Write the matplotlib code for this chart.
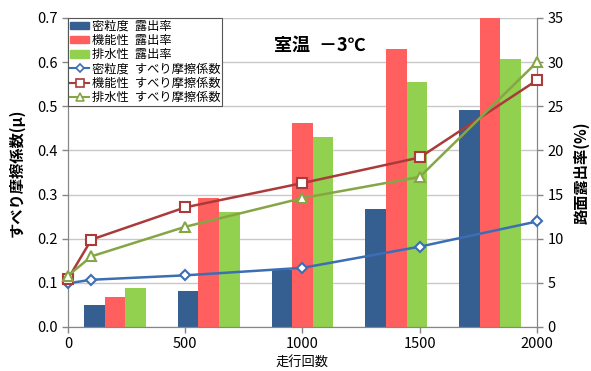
import numpy as np
import matplotlib.pyplot as plt
from matplotlib.patches import Patch
from matplotlib.lines import Line2D

plt.rcParams["font.family"] = ["Noto Sans CJK JP", "DejaVu Sans"]

# 走行回数ごとのすべり摩擦係数
run_counts = [0, 100, 500, 1000, 1500, 2000]
mu_dense = [0.099, 0.107, 0.117, 0.134, 0.182, 0.239]
mu_func = [0.109, 0.198, 0.271, 0.326, 0.384, 0.559]
mu_drain = [0.116, 0.160, 0.227, 0.292, 0.340, 0.600]

# 路面露出率(%) - 5区分の棒
bar_groups = ["100", "500", "1000", "1500", "2000"]
exp_dense = [2.5, 4.1, 6.5, 13.4, 24.6]
exp_func = [3.4, 14.6, 23.1, 31.5, 35.0]
exp_drain = [4.4, 13.0, 21.5, 27.7, 30.4]

C_BAR = ["#355F91", "#FF5F5F", "#92D050"]
C_LINE = ["#3C6EB4", "#AA3B3A", "#86A646"]
GRAY = "#868686"

fig = plt.figure(figsize=(5.91, 3.71), dpi=100)
ax = fig.add_axes([0.115, 0.1186, 0.7936, 0.833])
axb = ax.twinx()

# 棒は背面、折れ線は前面
ax.set_zorder(2)
ax.patch.set_visible(False)
axb.set_zorder(1)

x_max = 2000
n = len(bar_groups)
slot = x_max / n
centers = (np.arange(n) + 0.5) * slot
bw = slot * 0.22
for k, (vals, c) in enumerate(zip([exp_dense, exp_func, exp_drain], C_BAR)):
    axb.bar(centers + (k - 1) * bw, vals, width=bw, color=c, zorder=2)

axb.set_ylim(0, 35)
axb.set_yticks(range(0, 36, 5))
axb.grid(axis="y", color="#C8C8C8", linewidth=1.0, zorder=0)
axb.set_axisbelow(True)

markers = [("D", 5.0), ("s", 7.0), ("^", 7.5)]
for vals, c, (m, ms) in zip([mu_dense, mu_func, mu_drain], C_LINE, markers):
    ax.plot(run_counts, vals, color=c, linewidth=1.8, marker=m, markersize=ms,
            markerfacecolor="white", markeredgecolor=c, markeredgewidth=1.5,
            clip_on=False, zorder=3)

ax.set_xlim(0, x_max)
ax.set_ylim(0, 0.7)
ax.set_xticks(range(0, 2001, 500))
ax.set_yticks(np.arange(0, 0.71, 0.1))
ax.yaxis.set_major_formatter(plt.FormatStrFormatter("%.1f"))

for a in (ax, axb):
    for s in a.spines.values():
        s.set_color(GRAY)
    a.spines["top"].set_visible(False)
    a.tick_params(colors=GRAY, labelcolor="black", labelsize=10.5, length=4, width=1)

ax.set_ylabel("すべり摩擦係数(μ)", fontsize=11, fontweight="bold", va="center")
ax.yaxis.set_label_coords(-0.11, 0.5)
axb.set_ylabel("路面露出率(%)", fontsize=11, fontweight="bold", rotation=90, va="center")
axb.yaxis.set_label_coords(1.095, 0.5)
ax.set_xlabel("走行回数", fontsize=9.5)
ax.xaxis.set_label_coords(0.5, -0.098)

ax.text(0.537, 0.913, "室温\u2002－3℃", transform=ax.transAxes, ha="center", va="center",
        fontsize=13, fontweight="bold")

names = ["密粒度", "機能性", "排水性"]
handles = [Patch(color=c) for c in C_BAR]
labels = [f"{nm}\u2002露出率" for nm in names]
for c, (m, ms) in zip(C_LINE, markers):
    handles.append(Line2D([], [], color=c, linewidth=1.5, marker=m, markersize=ms * 0.8,
                          markerfacecolor="white", markeredgecolor=c, markeredgewidth=1.2))
labels += [f"{nm}\u2002すべり摩擦係数" for nm in names]
leg = ax.legend(handles, labels, loc="upper left", bbox_to_anchor=(0.0, 1.0),
                borderaxespad=0, fontsize=8.8, frameon=True, fancybox=False,
                framealpha=1, edgecolor="#555555", handlelength=1.6,
                handleheight=0.55, labelspacing=0.1, borderpad=0.15, handletextpad=0.2)
leg.get_frame().set_linewidth(0.8)

fig.savefig("out.png", dpi=100)
